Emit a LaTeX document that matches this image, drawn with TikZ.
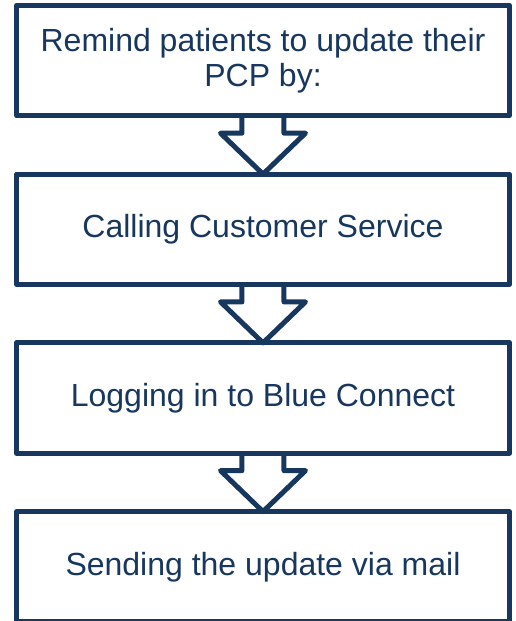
\documentclass[tikz,border=0pt]{standalone}
\usepackage{fontspec}
\setmainfont{Liberation Sans}
\usetikzlibrary{positioning}
\definecolor{navy}{HTML}{17375E}
\tikzset{
  stepbox/.style={draw=navy, line width=5pt, line join=round, fill=white,
    minimum width=493pt, minimum height=110.25pt, inner sep=0pt, outer sep=0pt,
    align=center, text=navy, font=\fontsize{32}{35}\selectfont},
  blockarrow/.style={draw=navy, line width=5pt, line join=round}
}
\begin{document}
\begin{tikzpicture}[x=1pt,y=1pt,node distance=58.5pt]
    \useasboundingbox (-263,-560.5) rectangle (253,60.5);
    \node[stepbox] (remind) at (0,0) {Remind patients to update their\\PCP by:};
    \node[stepbox, below=of remind] (call) {Calling Customer Service};
    \node[stepbox, below=of call] (login) {Logging in to Blue Connect};
    \node[stepbox, below=of login] (mail) {Sending the update via mail};
    \foreach \a/\b in {remind/call, call/login, login/mail}
      \draw[blockarrow] ([xshift=-21pt]\a.south) -- ++(0,-17.5) -- ++(-21.5,0) -- (\b.north)
        -- ([shift={(42.5pt,41pt)}]\b.north) -- ++(-21.5,0) -- ([xshift=21pt]\a.south);
\end{tikzpicture}
\end{document}
